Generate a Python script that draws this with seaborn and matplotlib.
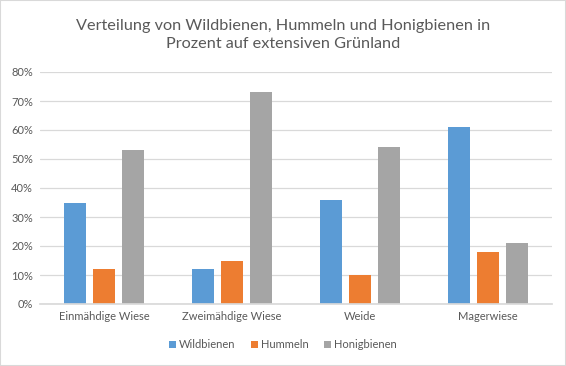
import matplotlib
matplotlib.use("Agg")
import matplotlib.pyplot as plt
import matplotlib.ticker as mticker
from matplotlib.patches import Rectangle
import seaborn as sns
import pandas as pd

# data
categories = ["Einmähdige Wiese", "Zweimähdige Wiese", "Weide", "Magerwiese"]
series = ["Wildbienen", "Hummeln", "Honigbienen"]
wildbienen = [35, 12, 36, 61]
hummeln = [12, 15, 10, 18]
honigbienen = [53, 73, 54, 21]
colors = ["#5B9BD5", "#ED7D31", "#A5A5A5"]

df = pd.DataFrame({
    "Kategorie": categories * 3,
    "Art": [s for s in series for _ in categories],
    "Wert": wildbienen + hummeln + honigbienen,
})

sns.set_theme(style="white")
plt.rcParams["font.family"] = ["Lato", "DejaVu Sans"]
text_col = "#595959"

fig = plt.figure(figsize=(5.66, 3.66), dpi=100)
ax = fig.add_axes([40 / 566, 62 / 366, 512 / 566, 232 / 366])

sns.barplot(data=df, x="Kategorie", y="Wert", hue="Art", palette=colors,
            saturation=1, width=0.675, gap=0.24, linewidth=0, ax=ax, legend=True)

ax.set_ylim(0, 80)
ax.set_xlim(-0.5, 3.5)
ax.yaxis.set_major_locator(mticker.MultipleLocator(10))
ax.yaxis.set_major_formatter(mticker.FuncFormatter(lambda v, p: f"{int(v)}%"))
ax.grid(axis="y", color="#D9D9D9", linewidth=0.9)
ax.set_axisbelow(True)
for s in ["top", "right", "left"]:
    ax.spines[s].set_visible(False)
ax.spines["bottom"].set_color("#D9D9D9")
ax.set_xlabel("")
ax.set_ylabel("")
ax.tick_params(axis="both", length=0, labelsize=8, colors=text_col, pad=5)

handles, labels = ax.get_legend_handles_labels()
ax.legend_.remove()
fig.legend(handles, labels, loc="center", bbox_to_anchor=(0.5, 21 / 366), ncol=3,
           frameon=False, fontsize=8, labelcolor=text_col, handlelength=0.6,
           handleheight=0.6, handletextpad=0.3, columnspacing=1.4)

fig.text(0.5, 1 - 35 / 366, "Verteilung von Wildbienen, Hummeln und Honigbienen in\nProzent auf extensiven Grünland",
         ha="center", va="center", fontsize=11.7, color=text_col, linespacing=1.3)

fig.patches.append(Rectangle((0, 0), 1, 1, transform=fig.transFigure, fill=False,
                             edgecolor="#D9D9D9", linewidth=1.5))

plt.savefig("out.png", dpi=100)
plt.close()
